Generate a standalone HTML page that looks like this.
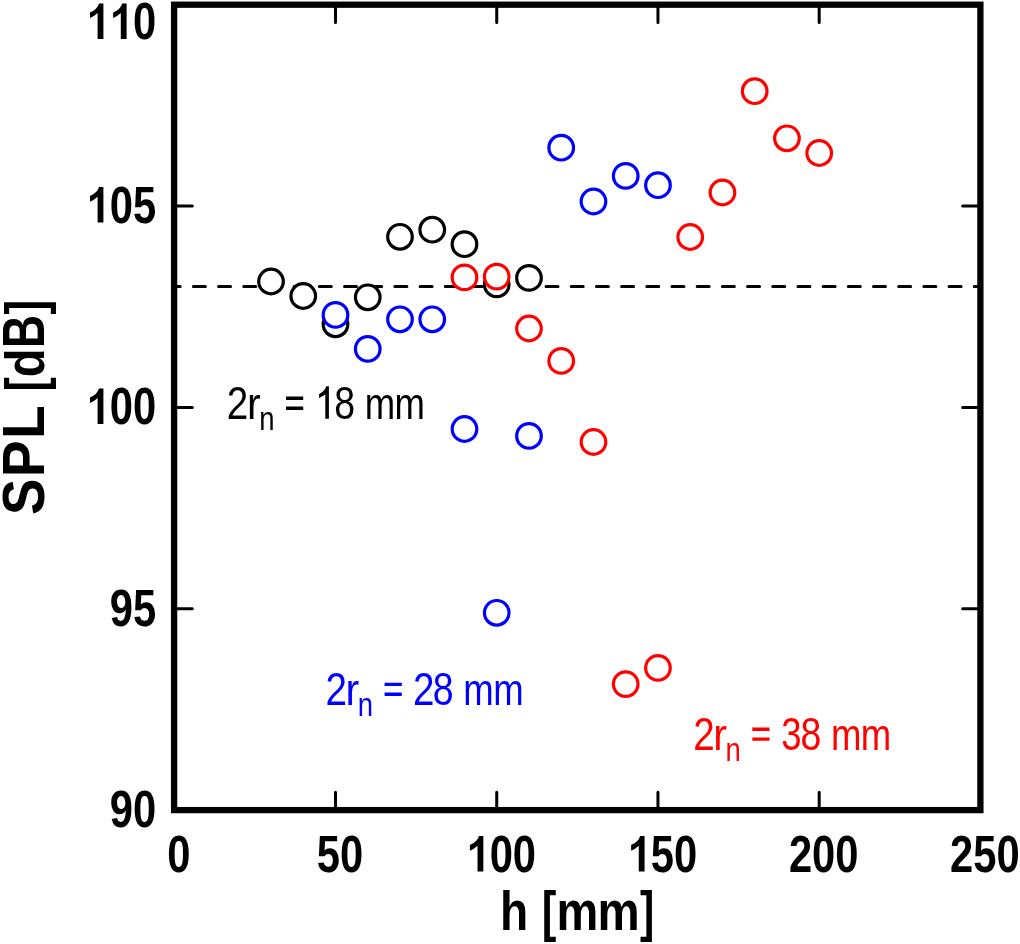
<!DOCTYPE html><html><head><meta charset="utf-8"><style>html,body{margin:0;padding:0;background:#fff;}svg{display:block;will-change:transform}text{font-family:"Liberation Sans",sans-serif}</style></head><body>
<svg width="1020" height="944" viewBox="0 0 1020 944">
<rect width="1020" height="944" fill="#fff"/>
<line x1="174.27" y1="286.6" x2="980.4" y2="286.6" stroke="#000" stroke-width="3" stroke-linecap="round" stroke-dasharray="12 13.19" stroke-dashoffset="6.1"/>
<circle cx="271.01" cy="281.5" r="12.3" fill="#fff" stroke="#000" stroke-width="3.2"/>
<circle cx="303.25" cy="296.0" r="12.3" fill="#fff" stroke="#000" stroke-width="3.2"/>
<circle cx="335.50" cy="324.3" r="12.3" fill="#fff" stroke="#000" stroke-width="3.2"/>
<circle cx="367.75" cy="297.3" r="12.3" fill="#fff" stroke="#000" stroke-width="3.2"/>
<circle cx="399.99" cy="236.8" r="12.3" fill="#fff" stroke="#000" stroke-width="3.2"/>
<circle cx="432.24" cy="229.7" r="12.3" fill="#fff" stroke="#000" stroke-width="3.2"/>
<circle cx="464.48" cy="244.2" r="12.3" fill="#fff" stroke="#000" stroke-width="3.2"/>
<circle cx="496.73" cy="284.4" r="12.3" fill="#fff" stroke="#000" stroke-width="3.2"/>
<circle cx="528.98" cy="277.9" r="12.3" fill="#fff" stroke="#000" stroke-width="3.2"/>
<circle cx="335.50" cy="314.9" r="12.3" fill="#fff" stroke="#00f" stroke-width="3.2"/>
<circle cx="367.75" cy="348.9" r="12.3" fill="#fff" stroke="#00f" stroke-width="3.2"/>
<circle cx="399.99" cy="319.3" r="12.3" fill="#fff" stroke="#00f" stroke-width="3.2"/>
<circle cx="432.24" cy="319.3" r="12.3" fill="#fff" stroke="#00f" stroke-width="3.2"/>
<circle cx="464.48" cy="429.0" r="12.3" fill="#fff" stroke="#00f" stroke-width="3.2"/>
<circle cx="496.73" cy="612.8" r="12.3" fill="#fff" stroke="#00f" stroke-width="3.2"/>
<circle cx="528.98" cy="435.9" r="12.3" fill="#fff" stroke="#00f" stroke-width="3.2"/>
<circle cx="561.22" cy="147.7" r="12.3" fill="#fff" stroke="#00f" stroke-width="3.2"/>
<circle cx="593.47" cy="201.5" r="12.3" fill="#fff" stroke="#00f" stroke-width="3.2"/>
<circle cx="625.71" cy="175.9" r="12.3" fill="#fff" stroke="#00f" stroke-width="3.2"/>
<circle cx="657.96" cy="185.2" r="12.3" fill="#fff" stroke="#00f" stroke-width="3.2"/>
<circle cx="464.48" cy="277.4" r="12.3" fill="#fff" stroke="#f00" stroke-width="3.2"/>
<circle cx="496.73" cy="276.6" r="12.3" fill="#fff" stroke="#f00" stroke-width="3.2"/>
<circle cx="528.98" cy="328.5" r="12.3" fill="#fff" stroke="#f00" stroke-width="3.2"/>
<circle cx="561.22" cy="360.9" r="12.3" fill="#fff" stroke="#f00" stroke-width="3.2"/>
<circle cx="593.47" cy="442.0" r="12.3" fill="#fff" stroke="#f00" stroke-width="3.2"/>
<circle cx="625.71" cy="684.1" r="12.3" fill="#fff" stroke="#f00" stroke-width="3.2"/>
<circle cx="657.96" cy="667.9" r="12.3" fill="#fff" stroke="#f00" stroke-width="3.2"/>
<circle cx="690.21" cy="237.0" r="12.3" fill="#fff" stroke="#f00" stroke-width="3.2"/>
<circle cx="722.45" cy="192.5" r="12.3" fill="#fff" stroke="#f00" stroke-width="3.2"/>
<circle cx="754.70" cy="91.2" r="12.3" fill="#fff" stroke="#f00" stroke-width="3.2"/>
<circle cx="786.94" cy="138.3" r="12.3" fill="#fff" stroke="#f00" stroke-width="3.2"/>
<circle cx="819.19" cy="153.0" r="12.3" fill="#fff" stroke="#f00" stroke-width="3.2"/>
<path d="M335.50 810V792.3M335.50 4.7V22.5M496.73 810V792.3M496.73 4.7V22.5M657.96 810V792.3M657.96 4.7V22.5M819.19 810V792.3M819.19 4.7V22.5M174 206.05H192.3M980.5 206.05H962.6M174 407.40H192.3M980.5 407.40H962.6M174 608.75H192.3M980.5 608.75H962.6" stroke="#000" stroke-width="3" stroke-linecap="round" fill="none"/>
<rect x="174.1" y="4.7" width="806.3" height="805.4" fill="none" stroke="#000" stroke-width="6.3"/>
<path transform="translate(86.50 38.90) scale(0.020369 -0.025146)" d="M830 0L830 1412L612 1412Q540 1180 170 1054L170 831Q390 900 545 1026L545 0Z"/><path transform="translate(109.70 38.90) scale(0.020369 -0.025146)" d="M830 0L830 1412L612 1412Q540 1180 170 1054L170 831Q390 900 545 1026L545 0Z"/><text transform="translate(132.90 38.90) scale(0.81 1)" font-size="51.5" font-weight="bold">0</text>
<path transform="translate(86.50 222.60) scale(0.020369 -0.025146)" d="M830 0L830 1412L612 1412Q540 1180 170 1054L170 831Q390 900 545 1026L545 0Z"/><text transform="translate(109.70 222.60) scale(0.81 1)" font-size="51.5" font-weight="bold">0</text><text transform="translate(132.90 222.60) scale(0.81 1)" font-size="51.5" font-weight="bold">5</text>
<path transform="translate(86.50 423.90) scale(0.020369 -0.025146)" d="M830 0L830 1412L612 1412Q540 1180 170 1054L170 831Q390 900 545 1026L545 0Z"/><text transform="translate(109.70 423.90) scale(0.81 1)" font-size="51.5" font-weight="bold">0</text><text transform="translate(132.90 423.90) scale(0.81 1)" font-size="51.5" font-weight="bold">0</text>
<text transform="translate(109.70 625.90) scale(0.81 1)" font-size="51.5" font-weight="bold">9</text><text transform="translate(132.90 625.90) scale(0.81 1)" font-size="51.5" font-weight="bold">5</text>
<text transform="translate(109.70 826.60) scale(0.81 1)" font-size="51.5" font-weight="bold">9</text><text transform="translate(132.90 826.60) scale(0.81 1)" font-size="51.5" font-weight="bold">0</text>
<text transform="translate(167.17 871.60) scale(0.81 1)" font-size="51.5" font-weight="bold">0</text>
<text transform="translate(316.80 871.60) scale(0.81 1)" font-size="51.5" font-weight="bold">5</text><text transform="translate(340.00 871.60) scale(0.81 1)" font-size="51.5" font-weight="bold">0</text>
<path transform="translate(466.43 871.60) scale(0.020369 -0.025146)" d="M830 0L830 1412L612 1412Q540 1180 170 1054L170 831Q390 900 545 1026L545 0Z"/><text transform="translate(489.63 871.60) scale(0.81 1)" font-size="51.5" font-weight="bold">0</text><text transform="translate(512.83 871.60) scale(0.81 1)" font-size="51.5" font-weight="bold">0</text>
<path transform="translate(627.66 871.60) scale(0.020369 -0.025146)" d="M830 0L830 1412L612 1412Q540 1180 170 1054L170 831Q390 900 545 1026L545 0Z"/><text transform="translate(650.86 871.60) scale(0.81 1)" font-size="51.5" font-weight="bold">5</text><text transform="translate(674.06 871.60) scale(0.81 1)" font-size="51.5" font-weight="bold">0</text>
<text transform="translate(788.89 871.60) scale(0.81 1)" font-size="51.5" font-weight="bold">2</text><text transform="translate(812.09 871.60) scale(0.81 1)" font-size="51.5" font-weight="bold">0</text><text transform="translate(835.29 871.60) scale(0.81 1)" font-size="51.5" font-weight="bold">0</text>
<text transform="translate(950.12 871.60) scale(0.81 1)" font-size="51.5" font-weight="bold">2</text><text transform="translate(973.32 871.60) scale(0.81 1)" font-size="51.5" font-weight="bold">5</text><text transform="translate(996.52 871.60) scale(0.81 1)" font-size="51.5" font-weight="bold">0</text>
<text transform="translate(499.88 930.30) scale(0.8285 1)" font-size="55.69" font-weight="bold">h</text>
<text transform="translate(541.84 930.30) scale(0.7926 1)" font-size="55.30" font-weight="bold">[</text>
<text transform="translate(556.40 930.30) scale(0.8359 1)" font-size="56.26" font-weight="bold">m</text>
<text transform="translate(597.57 930.30) scale(0.8429 1)" font-size="56.26" font-weight="bold">m</text>
<text transform="translate(640.07 930.30) scale(0.7790 1)" font-size="55.30" font-weight="bold">]</text>
<g transform="rotate(-90)"><text transform="translate(-515.07 43.80) scale(0.9249 1)" font-size="59.01" font-weight="bold">S</text><text transform="translate(-477.20 43.80) scale(0.9372 1)" font-size="59.01" font-weight="bold">P</text><text transform="translate(-439.10 43.80) scale(0.9378 1)" font-size="59.01" font-weight="bold">L</text><text transform="translate(-391.36 43.80) scale(0.7585 1)" font-size="55.30" font-weight="bold">[</text><text transform="translate(-377.24 43.80) scale(0.8388 1)" font-size="56.31" font-weight="bold">d</text><text transform="translate(-347.95 43.80) scale(0.7738 1)" font-size="59.01" font-weight="bold">B</text><text transform="translate(-314.44 43.80) scale(0.7995 1)" font-size="55.30" font-weight="bold">]</text></g>
<g fill="#000"><text transform="translate(226.86 418.80) scale(0.8404 1)" font-size="45.97">2</text><text transform="translate(246.96 418.80) scale(0.9354 1)" font-size="44.05">r</text><text transform="translate(259.27 429.80) scale(0.8233 1)" font-size="33.45">n</text><path d="M286.00 396.60h17.2v3.4h-17.2zM286.00 406.50h17.2v3.4h-17.2z"/><path transform="translate(228.80 418.80)" d="M100.1 0V-32.5H97.5Q95.8 -27.5 90.3 -24.7V-20.9Q93.8 -22.3 96.5 -24.2V0Z"/><text transform="translate(334.27 418.80) scale(0.8159 1)" font-size="45.97">8</text><text transform="translate(364.77 418.80) scale(0.8260 1)" font-size="44.23">m</text><text transform="translate(394.57 418.80) scale(0.8260 1)" font-size="44.23">m</text></g>
<g fill="#00f"><text transform="translate(325.46 704.90) scale(0.8404 1)" font-size="45.97">2</text><text transform="translate(345.56 704.90) scale(0.9354 1)" font-size="44.05">r</text><text transform="translate(357.87 715.90) scale(0.8233 1)" font-size="33.45">n</text><path d="M384.60 682.70h17.2v3.4h-17.2zM384.60 692.60h17.2v3.4h-17.2z"/><text transform="translate(413.06 704.90) scale(0.8404 1)" font-size="45.97">2</text><text transform="translate(432.87 704.90) scale(0.8159 1)" font-size="45.97">8</text><text transform="translate(463.37 704.90) scale(0.8260 1)" font-size="44.23">m</text><text transform="translate(493.17 704.90) scale(0.8260 1)" font-size="44.23">m</text></g>
<g fill="#f00"><text transform="translate(693.16 749.70) scale(0.8404 1)" font-size="45.97">2</text><text transform="translate(713.26 749.70) scale(0.9354 1)" font-size="44.05">r</text><text transform="translate(725.57 760.70) scale(0.8233 1)" font-size="33.45">n</text><path d="M752.30 727.50h17.2v3.4h-17.2zM752.30 737.40h17.2v3.4h-17.2z"/><text transform="translate(781.21 749.70) scale(0.7937 1)" font-size="45.97">3</text><text transform="translate(800.57 749.70) scale(0.8159 1)" font-size="45.97">8</text><text transform="translate(831.07 749.70) scale(0.8260 1)" font-size="44.23">m</text><text transform="translate(860.87 749.70) scale(0.8260 1)" font-size="44.23">m</text></g>
</svg></body></html>
